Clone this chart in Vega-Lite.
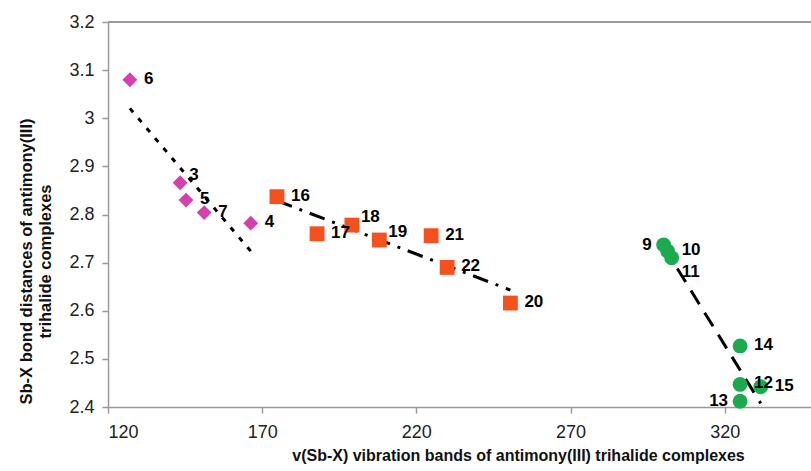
{
  "$schema": "https://vega.github.io/schema/vega-lite/v6.json",
  "width": 703,
  "height": 385,
  "autosize": {"type": "none"},
  "padding": {"left": 108, "top": 22, "right": 0, "bottom": 64},
  "background": "white",
  "config": {
    "view": {"stroke": null},
    "font": "Liberation Sans",
    "axis": {
      "grid": false,
      "domainColor": "#9a9a9a",
      "domainWidth": 1.5,
      "tickColor": "#9a9a9a",
      "tickWidth": 1.5,
      "tickSize": 6,
      "labelFont": "Liberation Sans",
      "labelFontSize": 18,
      "labelColor": "#222222",
      "titleFont": "Liberation Sans",
      "titleFontWeight": "bold",
      "titleColor": "#111111"
    }
  },
  "data": {
    "values": [
      {"id": "6", "x": 127.1, "y": 3.080, "series": "a"},
      {"id": "3", "x": 143.4, "y": 2.866, "series": "a"},
      {"id": "5", "x": 145.3, "y": 2.830, "series": "a"},
      {"id": "7", "x": 151.2, "y": 2.804, "series": "a"},
      {"id": "4", "x": 166.3, "y": 2.782, "series": "a"},
      {"id": "16", "x": 174.8, "y": 2.837, "series": "b"},
      {"id": "17", "x": 187.8, "y": 2.760, "series": "b"},
      {"id": "18", "x": 199.1, "y": 2.778, "series": "b"},
      {"id": "19", "x": 208.0, "y": 2.747, "series": "b"},
      {"id": "21", "x": 224.8, "y": 2.756, "series": "b"},
      {"id": "22", "x": 230.0, "y": 2.690, "series": "b"},
      {"id": "20", "x": 250.5, "y": 2.616, "series": "b"},
      {"id": "9", "x": 300.2, "y": 2.737, "series": "c"},
      {"id": "10", "x": 301.5, "y": 2.724, "series": "c"},
      {"id": "11", "x": 302.8, "y": 2.710, "series": "c"},
      {"id": "14", "x": 325.0, "y": 2.527, "series": "c"},
      {"id": "12", "x": 325.0, "y": 2.447, "series": "c"},
      {"id": "13", "x": 325.0, "y": 2.412, "series": "c"},
      {"id": "15", "x": 331.7, "y": 2.442, "series": "c"}
    ]
  },
  "encoding": {
    "x": {
      "field": "x", "type": "quantitative",
      "scale": {"domain": [120, 348], "nice": false, "zero": false},
      "axis": {
        "values": [120, 170, 220, 270, 320],
        "labelPadding": 10,
        "title": "v(Sb-X) vibration bands of antimony(III) trihalide complexes",
        "titleFontSize": 16,
        "titleX": 410,
        "titleY": 40,
        "titleAlign": "center",
        "titleBaseline": "top"
      }
    },
    "y": {
      "field": "y", "type": "quantitative",
      "scale": {"domain": [2.4, 3.2], "nice": false, "zero": false},
      "axis": {
        "values": [2.4, 2.5, 2.6, 2.7, 2.8, 2.9, 3.0, 3.1, 3.2],
        "format": "~g",
        "labelPadding": 8,
        "title": ["Sb-X bond distances of antimony(III)", "trihalide complexes"],
        "titleFontSize": 16.5,
        "titleLineHeight": 19,
        "titleX": -90,
        "titleY": 239,
        "titleAngle": 270,
        "titleAlign": "center",
        "titleBaseline": "top"
      }
    }
  },
  "layer": [
    {
      "mark": {"type": "rule", "color": "#9a9a9a", "strokeWidth": 1.5},
      "encoding": {"y": {"datum": 3.2}, "x": {"datum": 120}, "x2": {"datum": 348}}
    },
    {
      "transform": [{"regression": "y", "on": "x", "groupby": ["series"]}],
      "mark": {"type": "line", "color": "black", "strokeWidth": 3},
      "encoding": {
        "detail": {"field": "series"},
        "strokeDash": {
          "field": "series", "type": "nominal",
          "scale": {"domain": ["a", "b", "c"], "range": [[5, 8], [16, 8, 3, 8], [16, 10]]},
          "legend": null
        }
      }
    },
    {
      "mark": {"type": "point", "filled": true, "opacity": 1, "size": 220},
      "encoding": {
        "shape": {
          "field": "series", "type": "nominal",
          "scale": {"domain": ["a", "b", "c"], "range": ["diamond", "square", "circle"]},
          "legend": null
        },
        "color": {
          "field": "series", "type": "nominal",
          "scale": {"domain": ["a", "b", "c"], "range": ["#d63fae", "#f4511e", "#1daa4f"]},
          "legend": null
        }
      }
    },
    {
      "transform": [{"filter": {"field": "id", "oneOf": ["6", "5", "7", "4", "16", "17", "21", "22", "20", "14", "12", "15", "10"]}}],
      "mark": {"type": "text", "align": "left", "baseline": "middle", "dx": 14, "dy": -1, "fontSize": 17, "fontWeight": "bold", "color": "black"},
      "encoding": {"text": {"field": "id"}}
    },
    {
      "transform": [{"filter": {"field": "id", "oneOf": ["3", "18", "19"]}}],
      "mark": {"type": "text", "align": "left", "baseline": "middle", "dx": 9, "dy": -8, "fontSize": 17, "fontWeight": "bold", "color": "black"},
      "encoding": {"text": {"field": "id"}}
    },
    {
      "transform": [{"filter": {"field": "id", "oneOf": ["11"]}}],
      "mark": {"type": "text", "align": "left", "baseline": "middle", "dx": 10, "dy": 14, "fontSize": 17, "fontWeight": "bold", "color": "black"},
      "encoding": {"text": {"field": "id"}}
    },
    {
      "transform": [{"filter": {"field": "id", "oneOf": ["9", "13"]}}],
      "mark": {"type": "text", "align": "right", "baseline": "middle", "dx": -12, "dy": 0, "fontSize": 17, "fontWeight": "bold", "color": "black"},
      "encoding": {"text": {"field": "id"}}
    }
  ]
}
